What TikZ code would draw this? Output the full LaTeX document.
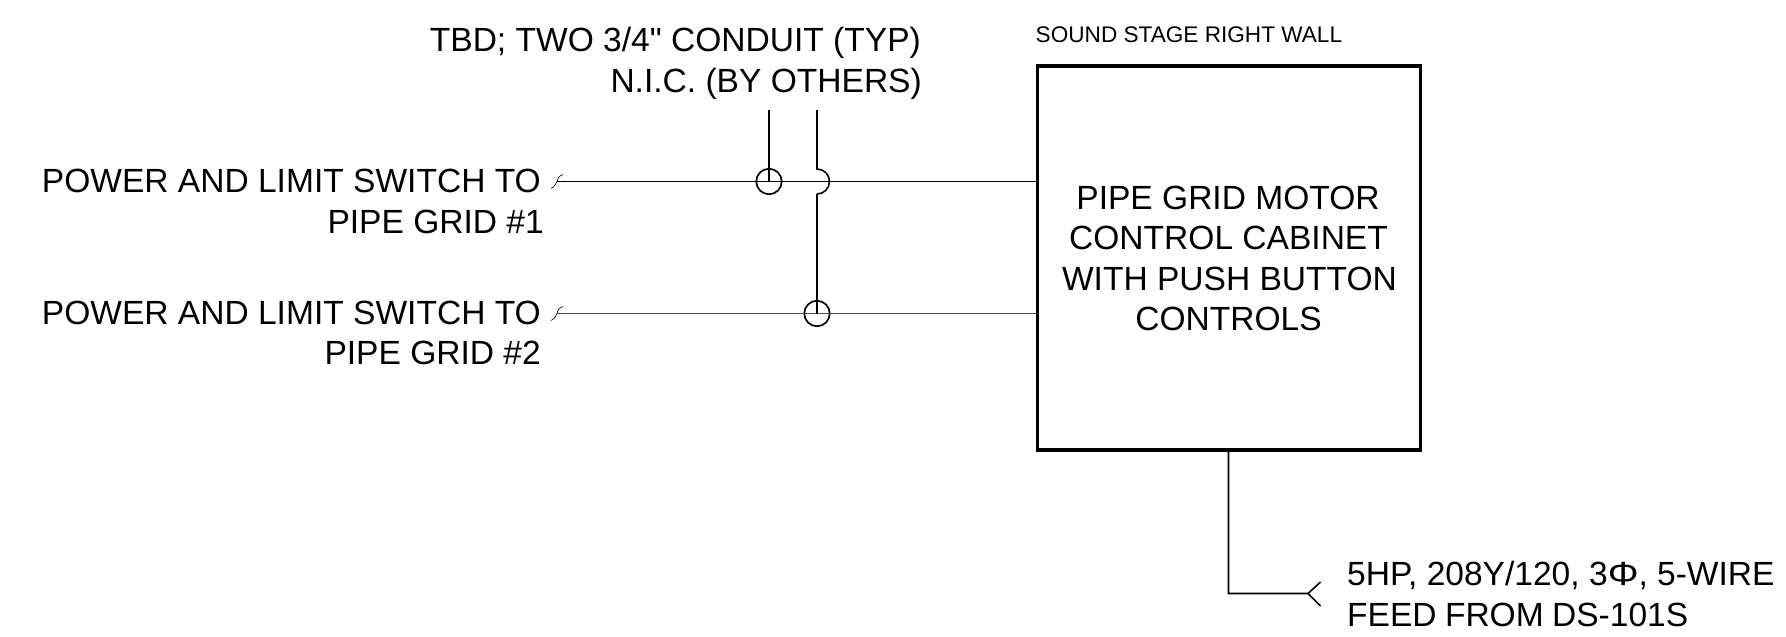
\documentclass[tikz,border=0pt]{standalone}
\usepackage{fontspec}
\usepackage{graphicx}
\newfontfamily\libsans{Liberation Sans}
\begin{document}
\begin{tikzpicture}[x=1pt,y=-1pt,
  lbl/.style={inner sep=0pt,font=\libsans\fontsize{33.55}{40}\selectfont},
  lblr/.style={lbl,anchor=base east},
  lbll/.style={lbl,anchor=base west},
  lblc/.style={lbl,anchor=base},
  wire/.style={line width=0.85pt,black},
  wirethin/.style={line width=1pt,black!70},
  cond/.style={line width=1.6pt,black},
  ring/.style={circle,draw,line width=1.7pt,minimum size=25.5pt,inner sep=0pt},
  cabinet/.style={draw,line width=3.2pt,minimum width=383.2pt,minimum height=384pt,inner sep=0pt}]
\useasboundingbox (0,0) rectangle (1786,637);
\node[lblr] (t1) at (921,51) {TBD; TWO 3/4" CONDUIT (TYP)};
\node[lblr] (t2) at (922,92) {N.I.C. (BY OTHERS)};
\node[inner sep=0pt,anchor=base west,font=\libsans\fontsize{22.6}{26}\selectfont] (title) at (1035.5,42) {SOUND STAGE RIGHT WALL};
\node[cabinet] (box) at (1228.9,258) {};
\node[lblc] (b1) at (1228,209) {PIPE GRID MOTOR};
\node[lblc] (b2) at (1228.5,249) {CONTROL CABINET};
\node[lblc] (b3) at (1229.5,290) {WITH PUSH BUTTON};
\node[lblc] (b4) at (1228.5,330) {CONTROLS};
\node[lblr] (p1) at (541,192) {POWER AND LIMIT SWITCH TO};
\node[lblr] (p2) at (544,233) {PIPE GRID \#1};
\node[lblr] (p3) at (541,324) {POWER AND LIMIT SWITCH TO};
\node[lblr] (p4) at (541,364) {PIPE GRID \#2};
\node[lbll] (f1) at (1347,585) {5HP, 208Y/120, 3\scalebox{1.15}[1]{Φ}, 5-WIRE};
\node[lbll] (f2) at (1347,626) {FEED\kern-1pt{} FROM\kern-1pt{} DS-101S};
% coordinates
\coordinate (s1) at (557,181.5);
\coordinate (s2) at (557,313.5);
\coordinate (e1) at (box.west |- s1);
\coordinate (e2) at (box.west |- s2);
\coordinate (c1top) at (769,110);
\coordinate (c2top) at (817,110);
\node[ring] (r1) at (769,181.5) {};
\node[ring] (r2) at (817,313.5) {};
\coordinate (ht) at (817,169);
\coordinate (hb) at (817,194);
\coordinate (el) at (1228.5,593.5);
\coordinate (fb) at (el |- box.south);
\coordinate (fk) at (1308,593.5);
\coordinate (fu) at (1320.5,582);
\coordinate (fd) at (1320.5,606);
% wires
\draw[wire] (s1) -- (e1);
\draw[wirethin] (s2) -- (e2);
\foreach \y in {181.5,313.5}{
  \draw[line width=0.6pt] (551,\y+7) .. controls (555,\y+6) and (557,\y-1) .. (557,\y) .. controls (558,\y-5) and (560,\y-6) .. (563,\y-7);
}
\draw[cond] (c1top) -- (r1.center);
\draw[cond] (c2top) -- (ht) arc[start angle=90,end angle=-90,radius=12.5pt];
\draw[cond] (hb) -- (r2.center);
\draw[cond] (fb) -- (el) -- (fk) -- (fu);
\draw[cond] (fk) -- (fd);
\end{tikzpicture}
\end{document}
